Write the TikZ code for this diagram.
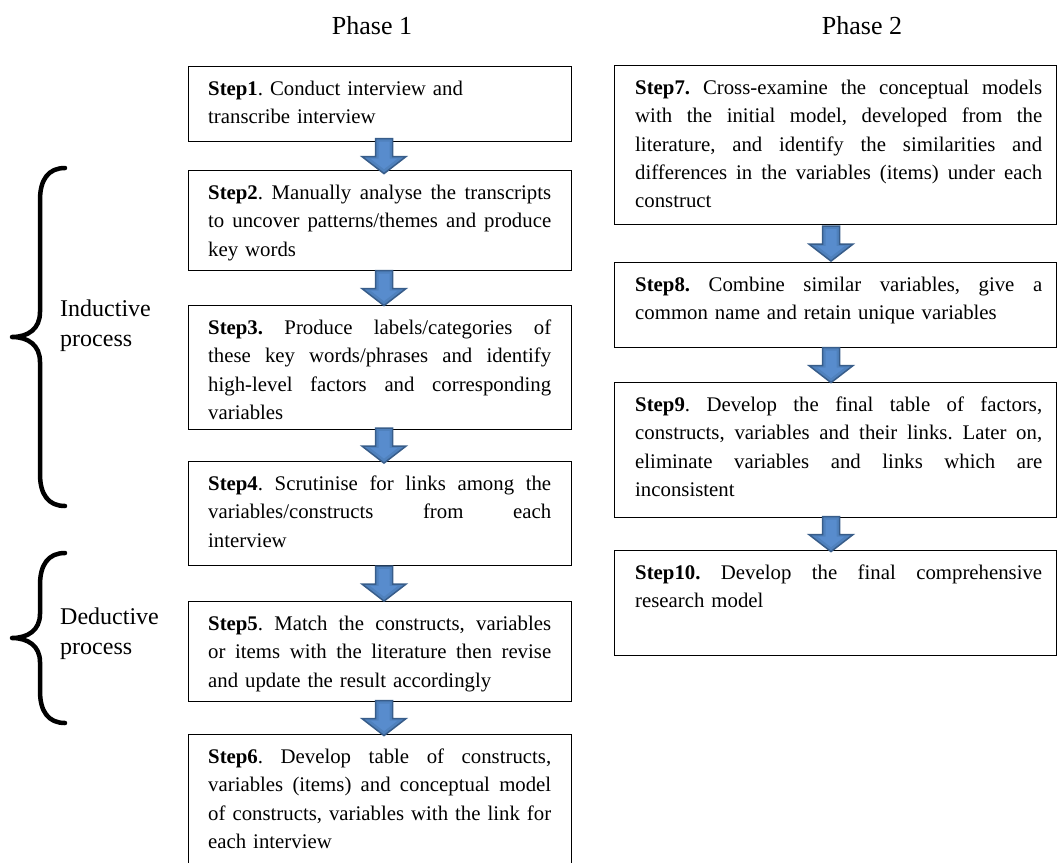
\documentclass[tikz,border=0pt]{standalone}
\usepackage{fontspec}
\setmainfont{Liberation Serif}
\usetikzlibrary{calc}
\frenchspacing

\definecolor{arrowblue}{RGB}{79,129,189}
\definecolor{arrowedge}{RGB}{56,93,138}
\definecolor{arrowlight}{RGB}{88,140,205}

% one justified line of a step text (width set by the text style)
\newcommand\jlwidth{343pt}
\newcommand\jl[1]{\leavevmode\hbox to \jlwidth{\spaceskip=0pt\xspaceskip=0pt #1}}

% block arrow centred in the gap between two step boxes
\newcommand\flowarrow[3]{%
  \path ($(#1.south west)!0.5!(#2.north west)$) ++(#3,0) coordinate (am);
  \draw[blockarrow] (am) ++(-8.5,-17.5) -- ++(17,0) -- ++(0,18) -- ++(13.5,0)
    -- ++(-22,17) -- ++(-22,-17) -- ++(13.5,0) -- cycle;
  \fill[arrowlight] (am) ++(-5.5,-14.5) -- ++(11,0) -- ++(0,17) -- ++(8,0)
    -- ++(-13.5,10.5) -- ++(-13.5,-10.5) -- ++(8,0) -- cycle;
}

\begin{document}
\begin{tikzpicture}[x=1pt,y=-1pt,
  stepbox/.style={draw=black, line width=1.2pt, rectangle, inner sep=0pt,
    anchor=north west},
  leftbox/.style={stepbox, minimum width=383pt},
  rightbox/.style={stepbox, minimum width=442pt},
  steptext/.style={inner sep=0pt, anchor=base west,
    font=\fontsize{20.8}{28.3}\selectfont},
  lefttext/.style={steptext, text width=343pt,
    execute at begin node={\renewcommand\jlwidth{343pt}}},
  righttext/.style={steptext, text width=407pt,
    execute at begin node={\renewcommand\jlwidth{407pt}}},
  phase/.style={inner sep=0pt, anchor=base, font=\fontsize{26}{30}\selectfont},
  proclabel/.style={inner sep=0pt, anchor=base west, align=left, text width=120pt,
    font=\fontsize{24}{30}\selectfont},
  blockarrow/.style={fill=arrowblue, draw=arrowedge, line width=1.5pt, line join=miter},
  brace/.style={line width=4.5pt, line cap=round, line join=round}
]
\useasboundingbox (0,0) rectangle (1057,862);

% phase headings
\node[phase] (ph1) at (372,34) {Phase 1};
\node[phase] (ph2) at (862,34) {Phase 2};

% phase 1 boxes (the last one runs past the lower edge)
\node[leftbox, minimum height=75pt]  (b1) at (188,66)  {};
\node[leftbox, minimum height=100pt] (b2) at (188,170) {};
\node[leftbox, minimum height=124pt] (b3) at (188,305) {};
\node[leftbox, minimum height=104pt] (b4) at (188,461) {};
\node[leftbox, minimum height=100pt] (b5) at (188,601) {};
\node[leftbox, minimum height=150pt] (b6) at (188,734) {};

% phase 2 boxes
\node[rightbox, minimum height=159pt] (b7)  at (614,65)  {};
\node[rightbox, minimum height=85pt]  (b8)  at (614,262) {};
\node[rightbox, minimum height=135pt] (b9)  at (614,382) {};
\node[rightbox, minimum height=105pt] (b10) at (614,550) {};

% step texts
\node[lefttext] (t1) at ($(b1.north west)+(20,29.5)$) {%
  \textbf{Step1}. Conduct interview and\\
  transcribe interview};
\node[lefttext] (t2) at ($(b2.north west)+(20,29.5)$) {%
  \jl{\textbf{Step2}. Manually analyse the transcripts}\\
  \jl{to uncover patterns/themes and produce}\\
  key words};
\node[lefttext] (t3) at ($(b3.north west)+(20,29.5)$) {%
  \jl{\textbf{Step3.} Produce labels/categories of}\\
  \jl{these key words/phrases and identify}\\
  \jl{high-level factors and corresponding}\\
  variables};
\node[lefttext] (t4) at ($(b4.north west)+(20,29.5)$) {%
  \jl{\textbf{Step4}. Scrutinise for links among the}\\
  \jl{variables/constructs from each}\\
  interview};
\node[lefttext] (t5) at ($(b5.north west)+(20,29.5)$) {%
  \jl{\textbf{Step5}. Match the constructs, variables}\\
  \jl{or items with the literature then revise}\\
  and update the result accordingly};
\node[lefttext] (t6) at ($(b6.north west)+(20,29.5)$) {%
  \jl{\textbf{Step6}. Develop table of constructs,}\\
  \jl{variables (items) and conceptual model}\\
  \jl{of constructs, variables with the link for}\\
  each interview};
\node[righttext] (t7) at ($(b7.north west)+(21,29.5)$) {%
  \jl{\textbf{Step7.} Cross-examine the conceptual models}\\
  \jl{with the initial model, developed from the}\\
  \jl{literature, and identify the similarities and}\\
  \jl{differences in the variables (items) under each}\\
  construct};
\node[righttext] (t8) at ($(b8.north west)+(21,29.5)$) {%
  \jl{\textbf{Step8.} Combine similar variables, give a}\\
  common name and retain unique variables};
\node[righttext] (t9) at ($(b9.north west)+(21,29.5)$) {%
  \jl{\textbf{Step9}. Develop the final table of factors,}\\
  \jl{constructs, variables and their links. Later on,}\\
  \jl{eliminate variables and links which are}\\
  inconsistent};
\node[righttext] (t10) at ($(b10.north west)+(21,29.5)$) {%
  \jl{\textbf{Step10.} Develop the final comprehensive}\\
  research model};

% arrows between consecutive steps
\flowarrow{b1}{b2}{196}
\flowarrow{b2}{b3}{196}
\flowarrow{b3}{b4}{196}
\flowarrow{b4}{b5}{196}
\flowarrow{b5}{b6}{196}
\flowarrow{b7}{b8}{217}
\flowarrow{b8}{b9}{217}
\flowarrow{b9}{b10}{217}

% process braces and their labels
\draw[brace] (65,168) .. controls (48,168) and (40,180) .. (40,200) -- (40,312)
  .. controls (40,329) and (28,337) .. (12,337)
  .. controls (28,337) and (40,345) .. (40,362) -- (40,474)
  .. controls (40,494) and (48,506) .. (65,506);
\node[proclabel] (ind) at (60,316) {Inductive\\process};

\draw[brace] (65,553) .. controls (48,553) and (40,565) .. (40,585) -- (40,614)
  .. controls (40,630) and (28,638) .. (12,638)
  .. controls (28,638) and (40,646) .. (40,662) -- (40,691)
  .. controls (40,711) and (48,723) .. (65,723);
\node[proclabel] (ded) at (60,624) {Deductive\\process};
\end{tikzpicture}
\end{document}
